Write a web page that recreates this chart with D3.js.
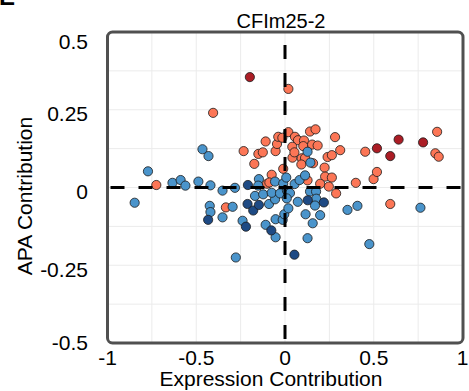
<!DOCTYPE html>
<html>
<head>
<meta charset="utf-8">
<script src="https://cdn.jsdelivr.net/npm/d3@7"></script>
<style>
  body { margin: 0; background: #fff; }
  text { font-family: "Liberation Sans", Arial, sans-serif; fill: #000; }
</style>
</head>
<body>
<div id="chart"></div>
<script>
const width = 469,
    height = 391;

const title = "CFIm25-2";
const xTitle = "Expression Contribution";
const yTitle = "APA Contribution";

const xTicks = [-1, -0.5, 0, 0.5, 1];
const xTickLabels = ["-1", "-0.5", "0", "0.5", "1"];
const yTicks = [-0.5, -0.25, 0, 0.25, 0.5];
const yTickLabels = ["-0.5", "-0.25", "0", "0.25", "0.5"];

// [expression, apa] pairs, one array per colour group
const lightRed = [
  [-0.725, 0.008], [-0.405, 0.240], [-0.233, 0.117], [0.019, 0.317], [-0.173, 0.076],
  [-0.150, 0.108], [-0.125, 0.113], [-0.109, 0.148], [-0.053, 0.117], [-0.045, 0.140],
  [-0.038, 0.163], [-0.015, 0.160], [0.019, 0.178], [0.056, 0.163], [0.073, 0.152],
  [0.041, 0.131], [0.042, 0.096], [0.053, 0.113], [-0.010, 0.060], [-0.075, 0.041],
  [-0.101, 0.012], [-0.088, 0.016], [-0.333, -0.064], [0.094, 0.094], [0.113, 0.095],
  [0.092, 0.074], [0.141, 0.180], [0.172, 0.187], [0.107, 0.151], [0.103, 0.133],
  [0.153, 0.138], [0.184, 0.135], [0.158, 0.078], [0.223, 0.064], [0.240, 0.098],
  [0.264, 0.104], [0.311, 0.120], [0.282, 0.162], [0.226, 0.035], [0.264, 0.032],
  [0.247, 0.003], [0.198, 0.012], [0.127, 0.023], [0.288, -0.019], [0.399, 0.015],
  [0.499, 0.027], [0.518, 0.050], [0.452, 0.115], [0.857, 0.179], [0.847, 0.110],
  [0.866, 0.099], [0.593, -0.053]
];
const darkRed = [
  [-0.198, 0.355], [0.518, 0.126], [0.593, 0.101], [0.640, 0.154], [0.778, 0.145]
];
const lightBlue = [
  [-0.772, 0.052], [-0.847, -0.049], [-0.634, 0.015], [-0.588, 0.024], [-0.561, 0.006],
  [-0.488, 0.019], [-0.465, 0.123], [-0.431, 0.101], [-0.420, 0.007], [-0.352, -0.010],
  [-0.282, -0.001], [-0.424, -0.059], [-0.420, -0.079], [-0.352, -0.096], [-0.295, -0.062],
  [-0.239, -0.107], [-0.277, -0.225], [-0.147, 0.027], [-0.169, -0.027], [-0.123, -0.022],
  [-0.090, -0.053], [-0.056, -0.038], [-0.109, -0.120], [-0.053, -0.160], [-0.053, -0.102],
  [-0.013, -0.104], [-0.004, -0.086], [0.019, -0.067], [0.072, -0.046], [0.054, 0.011],
  [-0.056, 0.019], [-0.010, 0.013], [-0.151, 0.006], [-0.075, -0.017], [-0.028, -0.019],
  [0.007, 0.032], [0.082, 0.024], [0.113, 0.039], [0.127, 0.115], [0.143, 0.080],
  [0.011, -0.010], [0.141, -0.013], [0.175, -0.013], [0.176, -0.036], [0.169, -0.058],
  [0.198, -0.089], [0.116, -0.086], [0.156, -0.115], [0.127, -0.163], [0.352, -0.072],
  [0.408, -0.059], [0.475, -0.182], [0.763, -0.065], [0.028, -0.018], [0.010, -0.035]
];
const darkBlue = [
  [-0.209, 0.008], [-0.211, -0.053], [-0.179, -0.074], [-0.147, -0.056], [-0.220, -0.126],
  [-0.077, -0.138], [-0.433, -0.104], [0.053, -0.216], [0.128, -0.041], [0.219, -0.048]
];

const groups = [
  { pts: lightRed, color: "#fc7656" },
  { pts: darkRed, color: "#ab1d25" },
  { pts: lightBlue, color: "#4a94cb" },
  { pts: darkBlue, color: "#1e4a84" }
];

const panel = { left: 107.5, right: 463, top: 32, bottom: 343 };

const svg = d3.select("#chart")
  .append("svg")
  .attr("width", width)
  .attr("height", height);

const x = d3.scaleLinear().domain([-1, 1]).range([panel.left, panel.right - 0.5]);
const y = d3.scaleLinear().domain([-0.5, 0.5]).range([panel.bottom, panel.top]);

// grid (major + minor look alike here)
svg.append("g")
  .selectAll("line")
  .data(d3.range(-0.75, 0.76, 0.25))
  .join("line")
  .attr("x1", d => x(d)).attr("x2", d => x(d))
  .attr("y1", panel.top).attr("y2", panel.bottom)
  .attr("stroke", "#ebebeb")
  .attr("stroke-width", 1);

svg.append("g")
  .selectAll("line")
  .data(d3.range(-0.375, 0.38, 0.125))
  .join("line")
  .attr("x1", panel.left).attr("x2", panel.right)
  .attr("y1", d => y(d)).attr("y2", d => y(d))
  .attr("stroke", "#ebebeb")
  .attr("stroke-width", 1);

// points
groups.forEach(g => {
  svg.append("g")
    .selectAll("circle")
    .data(g.pts)
    .join("circle")
    .attr("cx", d => x(d[0]))
    .attr("cy", d => y(d[1]))
    .attr("r", 4.6)
    .attr("fill", g.color)
    .attr("stroke", "#1a1a1a")
    .attr("stroke-width", 0.8);
});

// dashed reference lines at zero
svg.append("line")
  .attr("x1", panel.left).attr("x2", panel.right)
  .attr("y1", y(0)).attr("y2", y(0))
  .attr("stroke", "#000")
  .attr("stroke-width", 3)
  .attr("stroke-dasharray", "14,14")
  .attr("stroke-dashoffset", 25);

svg.append("line")
  .attr("x1", x(0)).attr("x2", x(0))
  .attr("y1", panel.top).attr("y2", panel.bottom)
  .attr("stroke", "#000")
  .attr("stroke-width", 3)
  .attr("stroke-dasharray", "14,14")
  .attr("stroke-dashoffset", 15);

// panel border
svg.append("rect")
  .attr("x", panel.left)
  .attr("y", panel.top)
  .attr("width", panel.right - panel.left)
  .attr("height", panel.bottom - panel.top)
  .attr("rx", 5)
  .attr("fill", "none")
  .attr("stroke", "#505050")
  .attr("stroke-width", 3);

// tick labels
svg.append("g")
  .selectAll("text")
  .data(xTicks)
  .join("text")
  .attr("x", d => x(d))
  .attr("y", 365)
  .attr("text-anchor", "middle")
  .style("font-size", "21px")
  .text((d, i) => xTickLabels[i]);

svg.append("g")
  .selectAll("text")
  .data(yTicks)
  .join("text")
  .attr("x", 88)
  .attr("y", d => Math.min(Math.max(y(d) + 4, 41), 342) + 7.5)
  .attr("text-anchor", "end")
  .style("font-size", "21px")
  .text((d, i) => yTickLabels[i]);

// titles
svg.append("text")
  .attr("x", 281)
  .attr("y", 28)
  .attr("text-anchor", "middle")
  .style("font-size", "20px")
  .text(title);

svg.append("text")
  .attr("x", 271)
  .attr("y", 386)
  .attr("text-anchor", "middle")
  .style("font-size", "21px")
  .text(xTitle);

svg.append("text")
  .attr("transform", "translate(32, 196) rotate(-90)")
  .attr("text-anchor", "middle")
  .style("font-size", "21px")
  .text(yTitle);

// panel letter, cut off at the top edge as in the reference
svg.append("text")
  .attr("x", -1)
  .attr("y", 5)
  .style("font-size", "24px")
  .style("font-weight", "bold")
  .text("E");
</script>
</body>
</html>
